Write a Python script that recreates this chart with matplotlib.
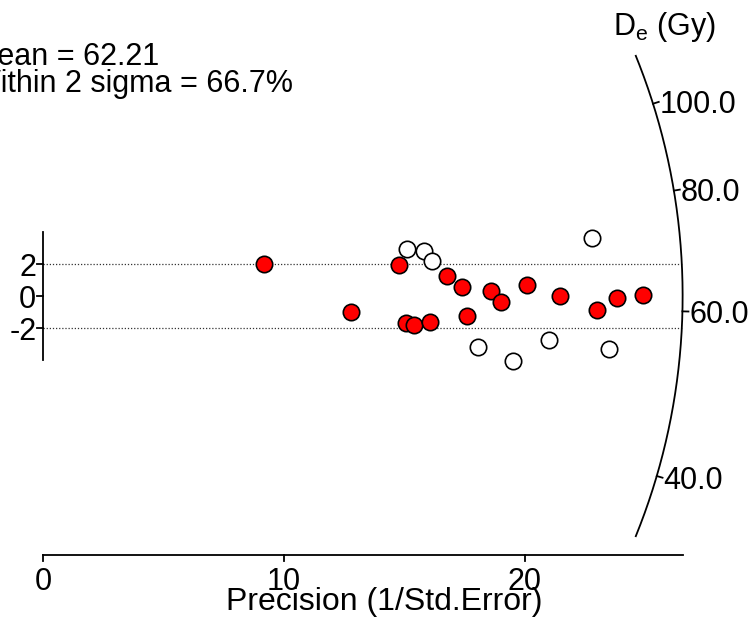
import numpy as np
import matplotlib.pyplot as plt

# precision (1/SE) and standardised estimate of each aliquot
prec_in = [9.17, 12.78, 14.77, 15.06, 15.38, 16.06, 16.75, 17.39, 17.58, 18.60,
           19.01, 20.09, 21.46, 23.01, 23.83, 24.92]
std_in = [1.98, -1.00, 1.94, -1.67, -1.83, -1.61, 1.25, 0.58, -1.23, 0.33,
          -0.39, 0.69, 0.02, -0.89, -0.12, 0.06]
prec_out = [15.10, 15.81, 16.15, 18.05, 19.49, 21.01, 22.79, 23.51]
std_out = [2.92, 2.81, 2.19, -3.17, -4.08, -2.77, 3.63, -3.33]

central = 62.21
within = 66.7
de_ticks = [40.0, 60.0, 80.0, 100.0]
de_arc = (33.8, 114.5)
x_ticks = [0, 10, 20]
y_ticks = [-2, 0, 2]
x_max = 26.55

plt.rcParams['font.family'] = ['Liberation Sans', 'DejaVu Sans']

W, H = 754, 632
X0, SX = 43.3, 24.08      # pixel of x=0 and px per unit
Y0, SY = 296.0, 16.0      # pixel (from top) of y=0 and px per unit

fig = plt.figure(figsize=(W / 100, H / 100), dpi=100)
ax = fig.add_axes([0, 0, 1, 1])
ax.set_xlim(-X0 / SX, (W - X0) / SX)
ax.set_ylim((Y0 - H) / SY, Y0 / SY)
ax.set_axis_off()

k = SX / SY   # stretch to keep the arc round on screen
px_x = 1.0 / SX
px_y = 1.0 / SY

# +-2 sigma band
for yv in (-2, 2):
    xe = np.sqrt(x_max ** 2 - (yv / k) ** 2)
    ax.plot([0, xe], [yv, yv], ls=(0, (1, 1.5)), color='#333333', lw=0.9, zorder=1)

# y axis
ax.plot([0, 0], [-4, 4], color='black', lw=1.3)
for t in y_ticks:
    ax.plot([-6 * px_x, 0], [t, t], color='black', lw=1.3)
    ax.text(-7 * px_x, t, str(t), ha='right', va='center_baseline', fontsize=22)

# x axis
y_ax = (Y0 - 555) / SY
ax.plot([0, x_max], [y_ax, y_ax], color='black', lw=1.3)
for t in x_ticks:
    ax.plot([t, t], [y_ax, y_ax - 6 * px_y], color='black', lw=1.3)
    ax.text(t, y_ax - 12 * px_y, str(t), ha='center', va='top', fontsize=22)
ax.text(14.14, y_ax - 47 * px_y, 'Precision (1/Std.Error)', ha='center', va='center',
        fontsize=23)

# radial De axis (log scale)
def ang(de):
    return np.arctan(np.log(de / central) / k)

th = np.linspace(ang(de_arc[0]), ang(de_arc[1]), 200)
ax.plot(x_max * np.cos(th), x_max * k * np.sin(th), color='black', lw=1.3)
for d in de_ticks:
    a = ang(d)
    r1 = x_max + 6 * px_x
    ax.plot([x_max * np.cos(a), r1 * np.cos(a)], [x_max * k * np.sin(a), r1 * k * np.sin(a)],
            color='black', lw=1.3)
    r2 = x_max + 7 * px_x
    ax.text(r2 * np.cos(a), r2 * k * np.sin(a), f'{d:.1f}', ha='left', va='center_baseline',
            fontsize=22)
ax.text(25.8, (Y0 - 27) / SY, r'D$_\mathregular{e}$ (Gy)', ha='center', va='center',
        fontsize=22)

# points
ax.plot(prec_out, std_out, 'o', ms=11.8, mfc='white', mec='black', mew=1.2, zorder=3)
ax.plot(prec_in, std_in, 'o', ms=11.8, mfc='#ff0000', mec='black', mew=1.2, zorder=3)

# summary text, partly cut off at the left edge like the original
fig.text(-28.5 / W, 1 - 65 / H, f'Mean = {central:.2f}', ha='left', va='baseline', fontsize=22)
fig.text(-28.5 / W, 1 - 92 / H, f'Within 2 sigma = {within:.1f}%', ha='left', va='baseline',
         fontsize=22)

fig.savefig('out.png', dpi=100)
